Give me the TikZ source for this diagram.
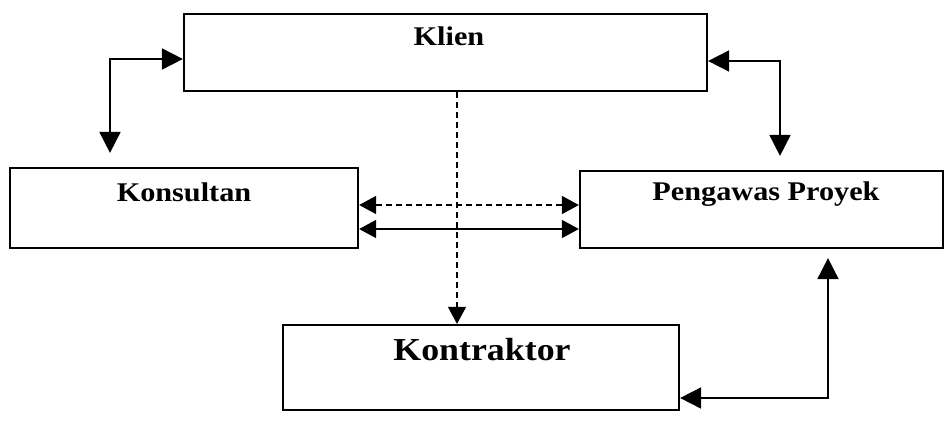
\documentclass[tikz,border=0pt]{standalone}
\usepackage{fontspec}
\setmainfont{Liberation Serif}[FakeStretch=1.12]
\usetikzlibrary{arrows.meta}
\begin{document}
\begin{tikzpicture}[x=1pt,y=-1pt,
  box/.style={draw=black, line width=2.2pt, fill=white, inner sep=0pt},
  lbl/.style={font=\bfseries\fontsize{27}{30}\selectfont, inner sep=0pt},
  conn/.style={line width=1.8pt, {Triangle[length=21pt,width=21pt]}-{Triangle[length=21pt,width=21pt]}},
  hconn/.style={line width=1.5pt, {Triangle[length=17pt,width=18pt]}-{Triangle[length=17pt,width=18pt]}},
  dconn/.style={line width=1.2pt, dash pattern=on 6pt off 4pt, -{Triangle[length=17pt,width=18pt]}}
]
\useasboundingbox (0,0) rectangle (945,423);
% boxes
\node[box, minimum width=523pt, minimum height=77pt] (klien) at (445.5,52.5) {};
\node[box, minimum width=348pt, minimum height=80pt] (kons) at (184,208) {};
\node[box, minimum width=363pt, minimum height=77pt] (peng) at (761.5,209.5) {};
\node[box, minimum width=396pt, minimum height=85pt] (kont) at (481,367.5) {};
% labels
\node[lbl] (tklien) at (449,36) {Klien};
\node[lbl] (tkons) at (184,192) {Konsultan};
\node[lbl] (tpeng) at (766,194) {Pengawas Proyek};
\node[lbl, font=\bfseries\fontsize{32}{36}\selectfont] (tkont) at (482,350) {Kontraktor};
% connectors
\draw[conn, shorten >=14pt] ([yshift=-6.5pt]klien.west) -| ([xshift=-74pt]kons.north);
\draw[conn, shorten >=14pt] ([yshift=-8.5pt]klien.east) -| ([xshift=18.5pt]peng.north);
\draw[conn, shorten >=9pt] ([yshift=-30.5pt]kont.east) -| ([xshift=66.5pt]peng.south);
\draw[hconn, dash pattern=on 6pt off 4pt, line width=1.2pt] ([yshift=3pt]kons.east) -- ([yshift=3pt]kons.east -| peng.west);
\draw[hconn] ([yshift=-21pt]kons.east) -- ([yshift=-21pt]kons.east -| peng.west);
\draw[dconn] ([xshift=11.5pt]klien.south) -- ([xshift=11.5pt]klien.south |- kont.north);
\end{tikzpicture}
\end{document}
